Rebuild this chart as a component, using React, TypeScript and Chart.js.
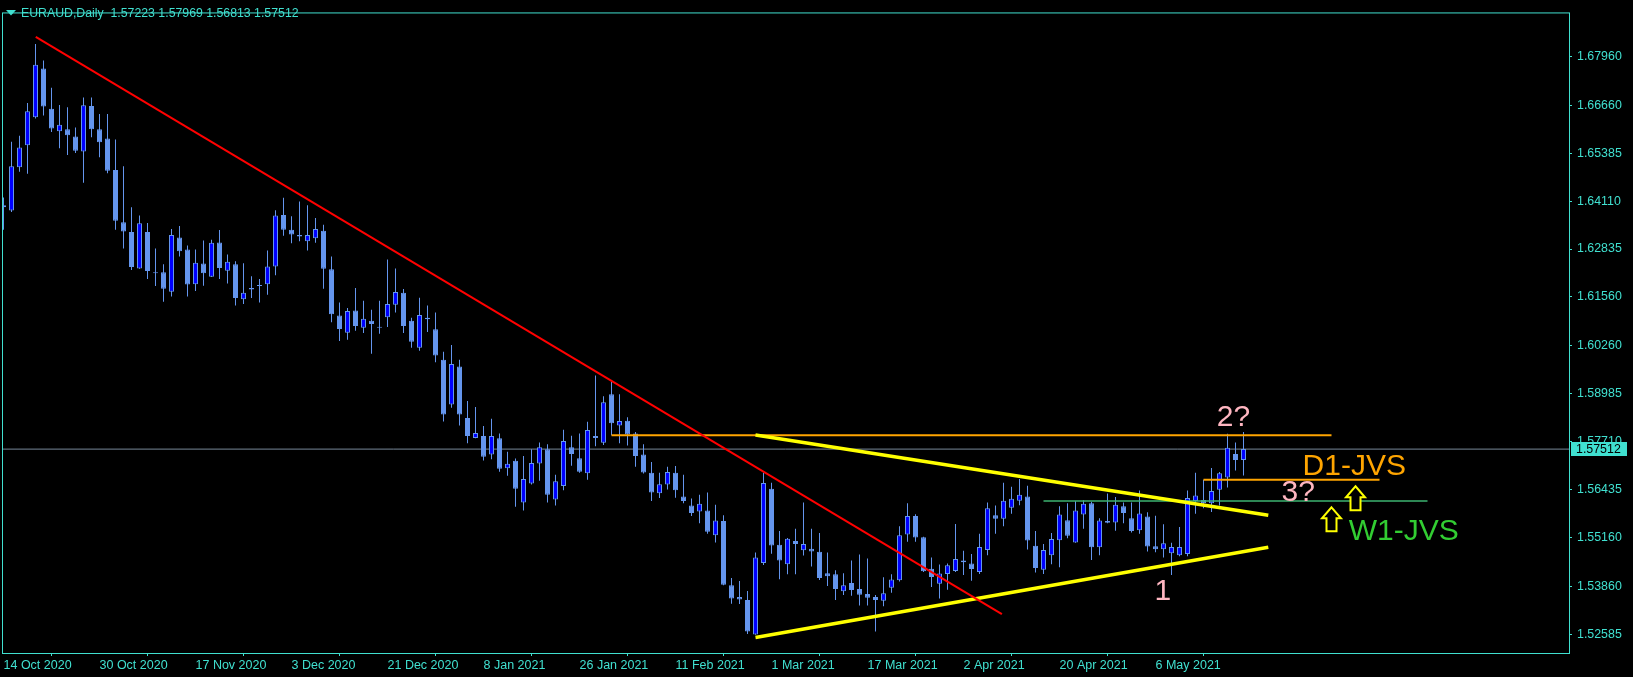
import React, { useEffect, useRef } from "react";
import { Chart, registerables } from "chart.js";
Chart.register(...registerables);

const TITLE = "EURAUD,Daily  1.57223 1.57969 1.56813 1.57512";
const dateTickIndex = [0, 12, 24, 36, 48, 60, 72, 84, 96, 108, 120, 132, 144];
const dateTickLabels = ["14 Oct 2020", "30 Oct 2020", "17 Nov 2020", "3 Dec 2020", "21 Dec 2020", "8 Jan 2021", "26 Jan 2021", "11 Feb 2021", "1 Mar 2021", "17 Mar 2021", "2 Apr 2021", "20 Apr 2021", "6 May 2021"];
const priceTicks = [1.52585, 1.5386, 1.5516, 1.56435, 1.5771, 1.58985, 1.6026, 1.6156, 1.62835, 1.6411, 1.65385, 1.6666, 1.6796];

const opens = [1.6400,1.6386,1.6501,1.6560,1.6634,1.6764,1.6657,1.6597,1.6602,1.6583,1.6543,1.6664,1.6602,1.6578,1.6494,1.6355,1.6329,1.6232,1.6329,1.6222,1.6222,1.6170,1.6314,1.6282,1.6190,1.6245,1.6210,1.6301,1.6226,1.6243,1.6150,1.6180,1.6188,1.6190,1.6237,1.6374,1.6335,1.6321,1.6304,1.6312,1.6332,1.6230,1.6107,1.6061,1.6120,1.6074,1.6093,1.6077,1.6102,1.6135,1.6167,1.6093,1.6021,1.6101,1.6070,1.5989,1.5870,1.5971,1.5834,1.5781,1.5786,1.5737,1.5780,1.5700,1.5720,1.5609,1.5660,1.5713,1.5751,1.5617,1.5653,1.5756,1.5727,1.5687,1.5781,1.5768,1.5897,1.5814,1.5827,1.5793,1.5737,1.5688,1.5634,1.5657,1.5688,1.5625,1.5601,1.5585,1.5588,1.5522,1.5560,1.5389,1.5358,1.5350,1.5258,1.5448,1.5646,1.5497,1.5445,1.5507,1.5482,1.5486,1.5478,1.5421,1.5418,1.5373,1.5395,1.5379,1.5366,1.5358,1.5348,1.5382,1.5402,1.5524,1.5573,1.5517,1.5433,1.5393,1.5419,1.5427,1.5450,1.5447,1.5424,1.5483,1.5575,1.5566,1.5595,1.5614,1.5625,1.5494,1.5430,1.5469,1.5509,1.5562,1.5503,1.5577,1.5607,1.5490,1.5560,1.5556,1.5599,1.5567,1.5535,1.5572,1.5493,1.5485,1.5474,1.5469,1.5472,1.5613,1.5616,1.5607,1.5643,1.5676,1.5738,1.57223];
const highs = [1.6421,1.6569,1.6585,1.6672,1.6829,1.6785,1.6713,1.6667,1.6661,1.6607,1.6687,1.6687,1.6643,1.6643,1.6575,1.6504,1.6395,1.6373,1.6353,1.6285,1.6243,1.6337,1.6345,1.6293,1.6282,1.6306,1.6308,1.6334,1.6269,1.6251,1.6246,1.6211,1.6204,1.6280,1.6387,1.6420,1.6371,1.6410,1.6400,1.6366,1.6348,1.6264,1.6141,1.6127,1.6180,1.6146,1.6122,1.6146,1.6256,1.6232,1.6177,1.6101,1.6154,1.6133,1.6115,1.6010,1.6028,1.5989,1.5879,1.5863,1.5813,1.5832,1.5793,1.5744,1.5726,1.5733,1.5751,1.5769,1.5764,1.5683,1.5803,1.5787,1.5793,1.5824,1.5947,1.5892,1.5930,1.5897,1.5836,1.5797,1.5764,1.5717,1.5688,1.5704,1.5706,1.5683,1.5620,1.5630,1.5636,1.5603,1.5575,1.5408,1.5400,1.5374,1.5476,1.5688,1.5662,1.5533,1.5515,1.5539,1.5609,1.5539,1.5528,1.5476,1.5429,1.5421,1.5455,1.5471,1.5460,1.5363,1.5410,1.5418,1.5546,1.5607,1.5578,1.5518,1.5463,1.5444,1.5447,1.5552,1.5481,1.5472,1.5526,1.5609,1.5601,1.5662,1.5651,1.5672,1.5654,1.5533,1.5499,1.5528,1.5599,1.5607,1.5613,1.5615,1.5611,1.5567,1.5633,1.5624,1.5609,1.5609,1.5641,1.5583,1.5574,1.5551,1.5502,1.5544,1.5641,1.5688,1.5670,1.5701,1.5690,1.5792,1.5769,1.57969];
const lows = [1.6335,1.6382,1.6489,1.6484,1.6631,1.6639,1.6595,1.6552,1.6534,1.6539,1.6460,1.6581,1.6528,1.6485,1.6335,1.6285,1.6228,1.6231,1.6204,1.6185,1.6143,1.6157,1.6264,1.6157,1.6172,1.6186,1.6209,1.6204,1.6192,1.6133,1.6137,1.6153,1.6141,1.6162,1.6214,1.6319,1.6299,1.6304,1.6280,1.6300,1.6178,1.6089,1.6039,1.6042,1.6066,1.6060,1.6005,1.6058,1.6076,1.6115,1.6060,1.6021,1.6013,1.6063,1.5982,1.5825,1.5861,1.5814,1.5767,1.5780,1.5721,1.5724,1.5691,1.5680,1.5598,1.5588,1.5657,1.5667,1.5609,1.5601,1.5642,1.5707,1.5688,1.5670,1.5759,1.5762,1.5788,1.5767,1.5761,1.5704,1.5686,1.5613,1.5621,1.5644,1.5622,1.5607,1.5573,1.5554,1.5526,1.5503,1.5389,1.5340,1.5339,1.5259,1.5257,1.5443,1.5473,1.5405,1.5418,1.5418,1.5468,1.5439,1.5403,1.5387,1.5350,1.5363,1.5361,1.5335,1.5335,1.5266,1.5333,1.5369,1.5399,1.5505,1.5505,1.5424,1.5384,1.5354,1.5377,1.5424,1.5416,1.5401,1.5419,1.5469,1.5526,1.5546,1.5579,1.5602,1.5484,1.5423,1.5419,1.5445,1.5437,1.5514,1.5502,1.5539,1.5456,1.5469,1.5554,1.5534,1.5554,1.5529,1.5526,1.5479,1.5477,1.5463,1.5416,1.5466,1.5466,1.5579,1.5594,1.5584,1.5601,1.5649,1.5694,1.56813];
const closes = [1.6395,1.6504,1.6554,1.6650,1.6774,1.6663,1.6604,1.6614,1.6586,1.6545,1.6666,1.6602,1.6568,1.6492,1.6359,1.6330,1.6236,1.6352,1.6225,1.6219,1.6178,1.6321,1.6278,1.6189,1.6247,1.6219,1.6300,1.6233,1.6250,1.6153,1.6167,1.6176,1.6185,1.6237,1.6373,1.6335,1.6322,1.6317,1.6321,1.6337,1.6231,1.6110,1.6071,1.6119,1.6079,1.6098,1.6084,1.6074,1.6137,1.6169,1.6079,1.6037,1.6108,1.6097,1.6000,1.5843,1.5978,1.5843,1.5786,1.5794,1.5731,1.5786,1.5699,1.5712,1.5646,1.5672,1.5714,1.5756,1.5630,1.5666,1.5773,1.5738,1.5691,1.5802,1.5786,1.5876,1.5820,1.5826,1.5790,1.5733,1.5689,1.5636,1.5658,1.5690,1.5642,1.5613,1.5581,1.5606,1.5531,1.5561,1.5390,1.5354,1.5351,1.5266,1.5463,1.5661,1.5495,1.5455,1.5513,1.5499,1.5499,1.5479,1.5408,1.5413,1.5379,1.5389,1.5376,1.5364,1.5356,1.5350,1.5368,1.5404,1.5522,1.5573,1.5516,1.5426,1.5411,1.5420,1.5442,1.5459,1.5455,1.5432,1.5491,1.5594,1.5566,1.5614,1.5619,1.5630,1.5508,1.5435,1.5483,1.5512,1.5577,1.5521,1.5588,1.5606,1.5490,1.5561,1.5555,1.5603,1.5581,1.5533,1.5580,1.5492,1.5485,1.5501,1.5491,1.5491,1.5621,1.5628,1.5607,1.5640,1.5687,1.5755,1.5722,1.57512];

// trend lines: [bar index, price]
const redTrend = [[4.03, 1.6848], [124.8, 1.5312]];
const topResistance = [[76, 1.5788], [166, 1.5788]];
const upperWedge = [[94, 1.5789], [158.1, 1.5575]];
const lowerWedge = [[94, 1.525], [158.1, 1.549]];
const d1Level = [[150, 1.567], [172, 1.567]];
const w1Level = [[130, 1.5613], [178, 1.5613]];
const lastPrice = 1.57512;

// annotations: [text, bar index, price at baseline, color]
const labels = [
  ["2?", 151.65, 1.5813, "#FFB6C1"],
  ["3?", 159.75, 1.5612, "#FFB6C1"],
  ["1", 143.86, 1.535, "#FFB6C1"],
  ["D1-JVS", 162.39, 1.5682, "#FFA500"],
  ["W1-JVS", 168.16, 1.5509, "#32CD32"],
];
// up arrows: [bar index, price at tip]
const arrows = [[166, 1.5599], [169, 1.5655]];

const FG = "#40E0D0";
const BULL = "#0000FF";
const BEAR = "#6495ED";
const FONT = '"Liberation Sans", Arial, sans-serif';

const toPts = (a: number[][]) => a.map(([x, y]) => ({ x, y }));

const overlay = {
  id: "overlay",
  afterDatasetsDraw(chart: any) {
    const { ctx, scales } = chart;
    const xs = scales.x, ys = scales.y;
    ctx.save();
    ctx.font = `30px ${FONT}`;
    ctx.textBaseline = "alphabetic";
    ctx.textAlign = "left";
    for (const [t, xi, p, c] of labels as any[]) {
      ctx.fillStyle = c;
      ctx.fillText(t, xs.getPixelForValue(xi), ys.getPixelForValue(p));
    }
    ctx.strokeStyle = "#FFFF00";
    ctx.lineWidth = 2;
    ctx.fillStyle = "#000";
    for (const [xi, p] of arrows) {
      const cx = xs.getPixelForValue(xi);
      const ty = ys.getPixelForValue(p) + 1;
      ctx.beginPath();
      ctx.moveTo(cx, ty);
      ctx.lineTo(cx + 9.5, ty + 11);
      ctx.lineTo(cx + 5, ty + 11);
      ctx.lineTo(cx + 5, ty + 24);
      ctx.lineTo(cx - 5, ty + 24);
      ctx.lineTo(cx - 5, ty + 11);
      ctx.lineTo(cx - 9.5, ty + 11);
      ctx.closePath();
      ctx.fill();
      ctx.stroke();
    }
    ctx.restore();
  },
  afterDraw(chart: any) {
    const { ctx, chartArea, scales } = chart;
    ctx.save();
    ctx.strokeStyle = FG;
    ctx.lineWidth = 1;
    ctx.strokeRect(chartArea.left + 0.5, chartArea.top + 0.5, chartArea.right - chartArea.left, chartArea.bottom - chartArea.top);
    // title
    ctx.fillStyle = FG;
    ctx.beginPath();
    ctx.moveTo(6, 10);
    ctx.lineTo(16, 10);
    ctx.lineTo(11, 15.5);
    ctx.closePath();
    ctx.fill();
    ctx.font = `12.3px ${FONT}`;
    ctx.textBaseline = "alphabetic";
    ctx.fillText(TITLE, 21, 17);
    // last price box
    const py = scales.y.getPixelForValue(lastPrice);
    ctx.fillStyle = FG;
    ctx.fillRect(chartArea.right + 2, Math.round(py) - 7, 56, 14);
    ctx.fillStyle = "#000";
    ctx.font = `12.4px ${FONT}`;
    ctx.textBaseline = "middle";
    ctx.fillText(lastPrice.toFixed(5), chartArea.right + 7, Math.round(py) + 0.5);
    ctx.restore();
  },
};

export default function App() {
  const ref = useRef<HTMLCanvasElement>(null);
  useEffect(() => {
    const n = opens.length;
    const idx = Array.from({ length: n }, (_, i) => i);
    const xMin = -0.1875;
    const xMax = 195.6875;
    const lineDs = (data: number[][], color: string, width: number, order: number) => ({
      type: "line",
      data: toPts(data),
      borderColor: color,
      borderWidth: width,
      pointRadius: 0,
      fill: false,
      tension: 0,
      order,
    });
    const chart = new Chart(ref.current as HTMLCanvasElement, {
      type: "bar",
      data: {
        datasets: [
          lineDs(redTrend, "#FF0000", 2, 1),
          lineDs(upperWedge, "#FFFF00", 3.5, 1),
          lineDs(lowerWedge, "#FFFF00", 3.5, 1),
          lineDs(topResistance, "#FFA500", 2, 1),
          lineDs(d1Level, "#FFA500", 2, 1),
          lineDs(w1Level, "#3CB371", 1.5, 1),
          {
            type: "bar",
            data: idx.map((i) => ({ x: i, y: [opens[i], closes[i]] })),
            backgroundColor: (c: any) => (closes[c.dataIndex] > opens[c.dataIndex] ? BULL : BEAR),
            borderColor: BEAR,
            borderWidth: 1,
            borderSkipped: false,
            barThickness: 5,
            minBarLength: 1,
            grouped: false,
            inflateAmount: 0,
            order: 2,
          },
          {
            type: "bar",
            data: idx.map((i) => ({ x: i, y: [lows[i], highs[i]] })),
            backgroundColor: BEAR,
            borderWidth: 0,
            barThickness: 1,
            grouped: false,
            inflateAmount: 0,
            order: 3,
          },
          lineDs([[xMin, lastPrice], [xMax, lastPrice]], "#778899", 1, 4),
        ] as any,
      },
      options: {
        animation: false,
        responsive: false,
        devicePixelRatio: 1,
        layout: { padding: { left: 2, top: 2, right: 0, bottom: 0 } },
        plugins: { legend: { display: false }, tooltip: { enabled: false } },
        scales: {
          x: {
            type: "linear",
            min: xMin,
            max: xMax,
            offset: false,
            afterFit: (s: any) => { s.height = 24; },
            afterBuildTicks: (s: any) => { s.ticks = dateTickIndex.map((v) => ({ value: v })); },
            grid: { display: true, drawOnChartArea: false, drawTicks: true, tickLength: 3, color: FG },
            border: { display: false },
            ticks: {
              autoSkip: false,
              maxRotation: 0,
              align: "start",
              padding: 2,
              color: FG,
              font: { family: FONT, size: 12.5 },
              callback: (v: any) => {
                const k = dateTickIndex.indexOf(Number(v));
                return k >= 0 ? dateTickLabels[k] : "";
              },
            },
          },
          y: {
            type: "linear",
            position: "right",
            min: 1.52087,
            max: 1.69131,
            afterFit: (s: any) => { s.width = 64; },
            afterBuildTicks: (s: any) => { s.ticks = priceTicks.map((v) => ({ value: v })); },
            grid: { display: true, drawOnChartArea: false, drawTicks: true, tickLength: 3, color: FG },
            border: { display: false },
            ticks: {
              autoSkip: false,
              padding: 5,
              color: FG,
              font: { family: FONT, size: 12.4 },
              callback: (v: any) => Number(v).toFixed(5),
            },
          },
        },
      } as any,
      plugins: [overlay],
    });
    return () => chart.destroy();
  }, []);
  return (
    <div style={{ position: "fixed", left: 0, top: 0, width: 1633, height: 677, background: "#000" }}>
      <canvas ref={ref} width={1633} height={677} style={{ display: "block" }} />
    </div>
  );
}
